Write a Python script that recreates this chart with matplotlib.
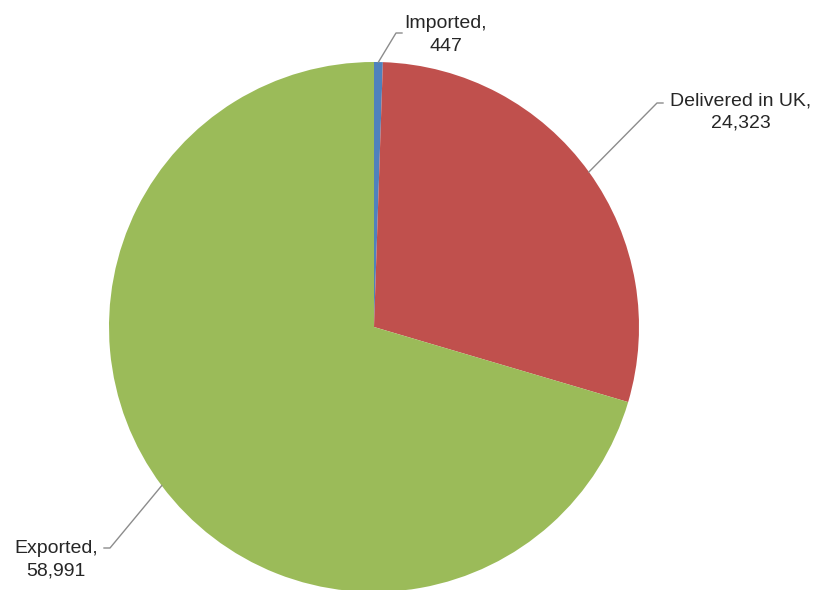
import numpy as np
import matplotlib
matplotlib.use('Agg')
import matplotlib.pyplot as plt

labels = ['Imported', 'Delivered in UK', 'Exported']
values = [447, 24323, 58991]
colors = ['#4F81BD', '#C0504D', '#9BBB59']

# label layout in pixel coords (y up): text centre, elbow of leader line, end of leader line
text_pos = [(446, 555), (741, 478), (56, 30)]
elbow = [(396, 557), (657, 487), (110, 42)]
line_end = [(402, 557), (663, 487), (104, 42)]

plt.rcParams['font.family'] = ['Liberation Sans', 'DejaVu Sans']

fig = plt.figure(figsize=(8.19, 5.9), dpi=100)
ax = fig.add_axes([0, 0, 1, 1])

cx, cy, r = 374, 263, 265
wedges, _ = ax.pie(values, colors=colors, startangle=90, counterclock=False,
                   center=(cx, cy), radius=r, frame=True)
ax.set_xlim(0, 819)
ax.set_ylim(0, 590)
ax.set_aspect('equal')
ax.axis('off')

for i, w in enumerate(wedges):
    ang = np.deg2rad((w.theta1 + w.theta2) / 2.0)
    px = cx + r * np.cos(ang)
    py = cy + r * np.sin(ang)
    ax.plot([px, elbow[i][0], line_end[i][0]], [py, elbow[i][1], line_end[i][1]],
            color='#8c8c8c', lw=1, zorder=3)
    ax.text(text_pos[i][0], text_pos[i][1], '%s,\n%s' % (labels[i], format(values[i], ',')),
            ha='center', va='center', multialignment='center', fontsize=14,
            color='#262626', linespacing=1.45)

fig.savefig('out.png', dpi=100)
